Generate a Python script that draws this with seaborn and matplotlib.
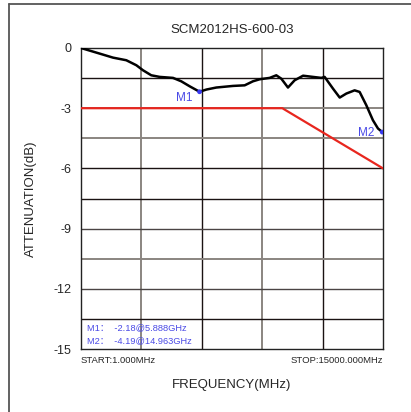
import matplotlib
matplotlib.use("Agg")
import matplotlib.pyplot as plt
import seaborn as sns
from matplotlib.lines import Line2D

sns.set_style("white")
plt.rcParams['font.family'] = ['Liberation Sans', 'Noto Sans CJK SC', 'DejaVu Sans']

# measured attenuation curve (MHz, dB)
freq = [0, 930, 1590, 2250, 2750, 3080, 3490, 3910, 4570, 4980, 5400, 5888,
        6230, 6720, 7550, 8130, 8540, 8870, 9370, 9700, 9950, 10280, 10610,
        11030, 11520, 11940, 12100, 12520, 12850, 13180, 13590, 13840, 14170,
        14500, 14750, 14963]
atten = [0, -0.28, -0.48, -0.61, -0.86, -1.11, -1.36, -1.44, -1.49, -1.66,
         -1.91, -2.18, -2.07, -1.97, -1.89, -1.86, -1.66, -1.56, -1.49, -1.36,
         -1.53, -1.97, -1.61, -1.38, -1.44, -1.49, -1.44, -2.03, -2.47, -2.27,
         -2.11, -2.19, -2.85, -3.60, -4.01, -4.19]

# spec limit
limit_freq = [0, 10000, 15000]
limit_atten = [-3, -3, -6]

markers = ['M1', 'M2']
marker_freq = [5888, 14963]
marker_atten = [-2.18, -4.19]

yticks = [0, -3, -6, -9, -12, -15]

fig = plt.figure(figsize=(4.11, 4.12), dpi=100)
ax = fig.add_axes([81 / 411, 1 - 349 / 412, 302 / 411, 301 / 412])

# outer frame of the picture (only left and top edges are visible)
fx, fy = 8.5 / 411, 1 - 3.5 / 412
fig.lines.append(Line2D([fx, fx], [0, fy], transform=fig.transFigure,
                        color='#555555', lw=1.3))
fig.lines.append(Line2D([fx, 1], [fy, fy], transform=fig.transFigure,
                        color='#555555', lw=1.3))

# grid
dark = '#1a1212'
grey = '#8a8580'
for x, c in zip([3000, 6000, 9000, 12000], [grey, dark, grey, dark]):
    ax.axvline(x, color=c, lw=1.4 if c == grey else 1.0, zorder=1)
hcols = [dark, grey, grey, dark, dark, '#4a4444', grey, '#4a4444', dark]
for i, c in enumerate(hcols):
    y = -1.5 * (i + 1)
    ax.axhline(y, color=c, lw=1.4 if c == grey else 1.0, zorder=1)

sns.lineplot(x=limit_freq, y=limit_atten, ax=ax, color='#e8261e', lw=1.6, zorder=3)
sns.lineplot(x=freq, y=atten, ax=ax, color='black', lw=1.8, zorder=4)
sns.scatterplot(x=marker_freq, y=marker_atten, ax=ax, color='#3a3af0', s=12,
                edgecolor='none', zorder=5)

blue = '#4a4ae6'
ax.text(5116, -2.47, markers[0], color=blue, fontsize=8.5, ha='center', va='center')
ax.text(14156, -4.26, markers[1], color=blue, fontsize=8.5, ha='center', va='center')

ax.text(280, -14.05, 'M1：  -2.18@5.888GHz', color=blue, fontsize=6.7,
        ha='left', va='baseline')
ax.text(280, -14.7, 'M2：  -4.19@14.963GHz', color=blue, fontsize=6.7,
        ha='left', va='baseline')

ax.set_xlim(0, 15000)
ax.set_ylim(-15, 0)
ax.set_xticks([])
ax.set_yticks(yticks)
ax.set_yticklabels([str(t) for t in yticks])
ax.tick_params(axis='y', length=0, pad=7, labelsize=9)
for s in ax.spines.values():
    s.set_color('#222222')
    s.set_linewidth(1.0)

ax.text(0, -15.55, 'START:1.000MHz', fontsize=6.8, ha='left', va='center')
ax.text(15000, -15.55, 'STOP:15000.000MHz', fontsize=6.8, ha='right', va='center')

ax.set_title('SCM2012HS-600-03', fontsize=9.5, pad=10.5)
ax.set_xlabel('FREQUENCY(MHz)', fontsize=9.5, labelpad=21.5)
ax.set_ylabel('ATTENUATION(dB)', fontsize=9.5, labelpad=12)

fig.savefig('out.png', dpi=100)
